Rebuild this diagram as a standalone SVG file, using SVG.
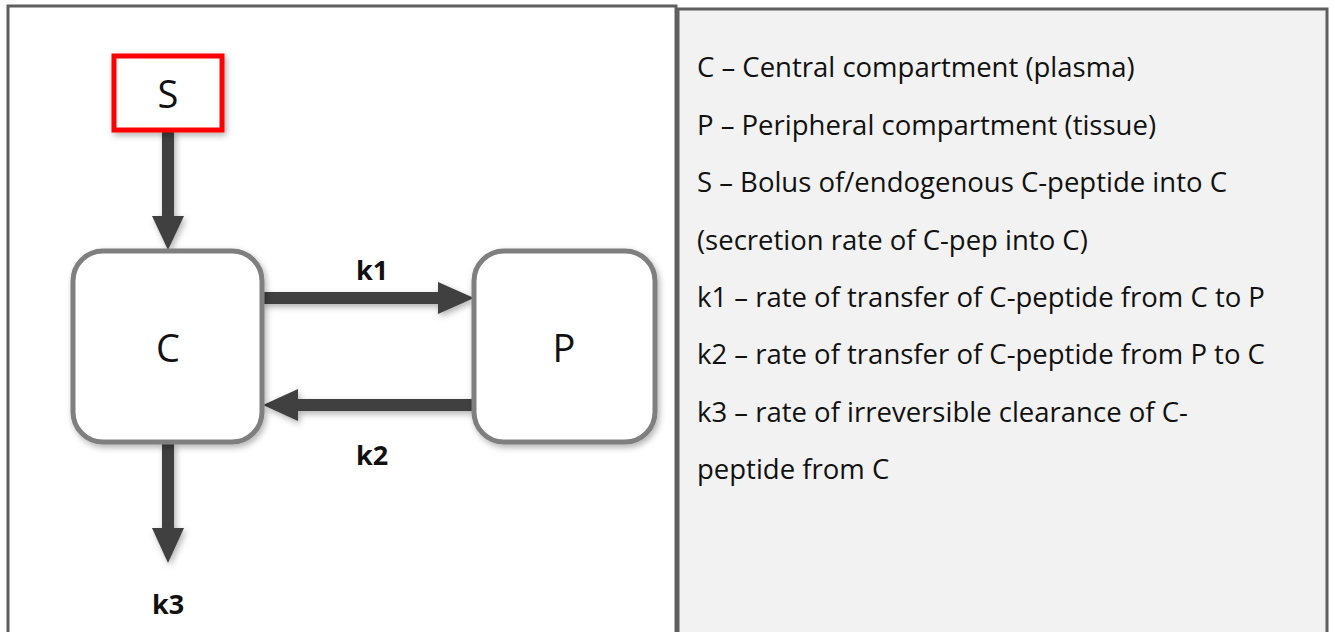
<svg xmlns="http://www.w3.org/2000/svg" width="1335" height="632" viewBox="0 0 1335 632">
<style>
.panel{fill:#fff;stroke:#5f5f5f;stroke-width:3}
.legend{fill:#f2f2f2;stroke:#5f5f5f;stroke-width:3}
.comp{fill:#fff;stroke:#7f7f7f;stroke-width:5}
.src{fill:#fff;stroke:#ff0000;stroke-width:5}
.big{font-family:"Open Sans","Liberation Sans",sans-serif;font-size:38px;fill:#111;text-anchor:middle}
.lab{font-family:"Open Sans","Liberation Sans",sans-serif;font-size:27px;font-weight:bold;fill:#111;text-anchor:middle}
.leg{font-family:"Open Sans","Liberation Sans",sans-serif;font-size:27.5px;fill:#111}
.arr{stroke:#404040;stroke-width:12;fill:none}
.head{fill:#404040}
</style>
<defs>
<filter id="sh" x="-20%" y="-20%" width="140%" height="140%">
<feDropShadow dx="2" dy="3" stdDeviation="3" flood-color="#000" flood-opacity="0.3"/>
</filter>
</defs>
<rect class="panel" x="8" y="6" width="668" height="630"/>
<rect class="legend" x="678" y="9" width="649" height="627"/>
<g id="connectors" filter="url(#sh)">
<line class="arr" x1="168" y1="130" x2="168" y2="218"/>
<polygon class="head" points="152,216 184,216 168,250"/>
<line class="arr" x1="262" y1="298" x2="440" y2="298"/>
<polygon class="head" points="438,282 438,314 474,298"/>
<line class="arr" x1="473" y1="405" x2="296" y2="405"/>
<polygon class="head" points="298,389 298,421 263,405"/>
<line class="arr" x1="168" y1="443" x2="168" y2="530"/>
<polygon class="head" points="152,528 184,528 168,563"/>
</g>
<g id="node-S">
<rect class="src" x="114" y="56" width="108" height="74" filter="url(#sh)"/>
<text class="big" x="168" y="108">S</text>
</g>
<g id="node-C">
<rect class="comp" x="73" y="251" width="189" height="191" rx="30" filter="url(#sh)"/>
<text class="big" x="168" y="362">C</text>
</g>
<g id="node-P">
<rect class="comp" x="474" y="251" width="181" height="191" rx="30" filter="url(#sh)"/>
<text class="big" x="564" y="362">P</text>
</g>
<g id="labels">
<text class="lab" x="372" y="280">k1</text>
<text class="lab" x="372" y="465">k2</text>
<text class="lab" x="168" y="614">k3</text>
</g>
<g id="legend">
<text class="leg" x="697" y="77">C – Central compartment (plasma)</text>
<text class="leg" x="697" y="135">P – Peripheral compartment (tissue)</text>
<text class="leg" x="697" y="192">S – Bolus of/endogenous C-peptide into C</text>
<text class="leg" x="697" y="250">(secretion rate of C-pep into C)</text>
<text class="leg" x="697" y="307">k1 – rate of transfer of C-peptide from C to P</text>
<text class="leg" x="697" y="364">k2 – rate of transfer of C-peptide from P to C</text>
<text class="leg" x="697" y="422">k3 – rate of irreversible clearance of C-</text>
<text class="leg" x="697" y="479">peptide from C</text>
</g>
</svg>
